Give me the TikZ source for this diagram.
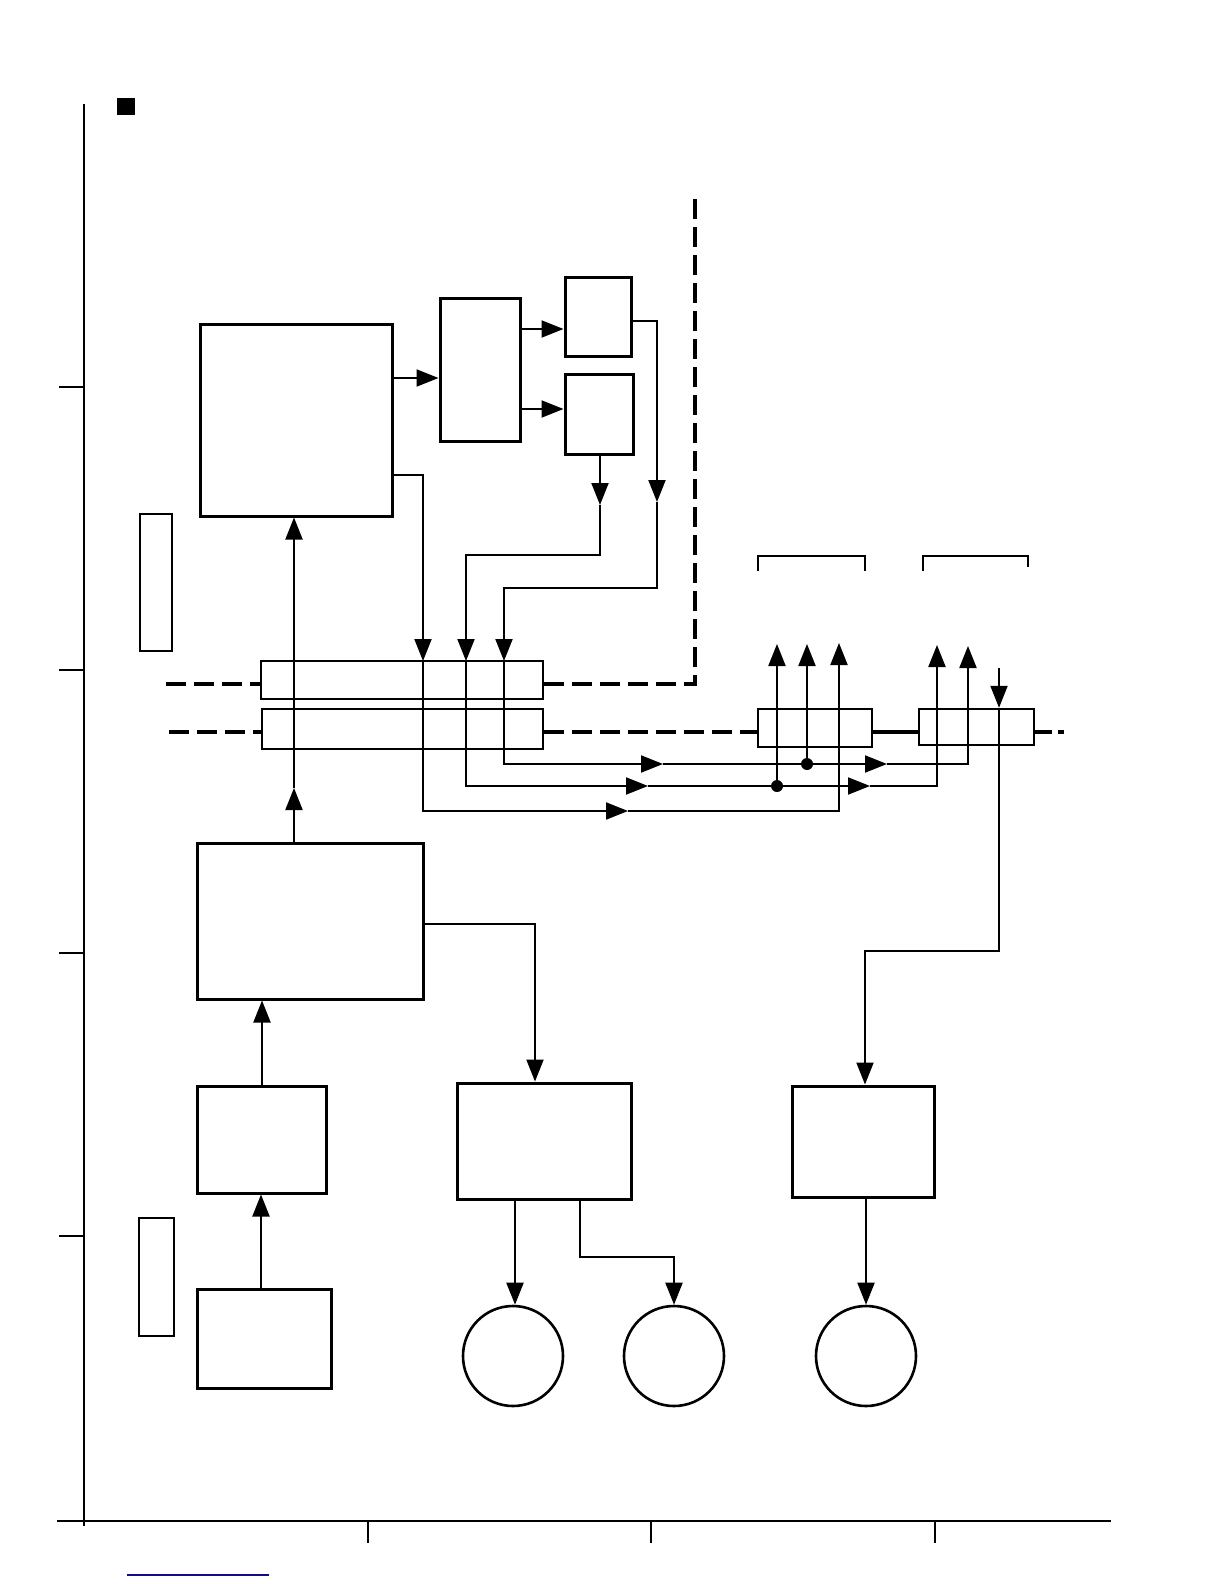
\documentclass[tikz,border=0pt]{standalone}
\usetikzlibrary{arrows.meta,fit}
\definecolor{navyline}{rgb}{0.05,0.05,0.55}
\tikzset{
  box/.style={draw, line width=1.5pt, inner sep=0pt, fill=white},
  thinbox/.style={draw, line width=0.8pt, inner sep=0pt},
  bar/.style={draw, line width=1.2pt, inner sep=0pt},
  circ/.style={draw, circle, line width=1.3pt, minimum size=50pt, inner sep=0pt},
  conn/.style={line width=1pt},
  arr/.style={line width=1pt, -{Triangle[length=11pt,width=8.5pt]}},
  bus/.style={line width=2pt, dash pattern=on 10pt off 4pt},
  solidbus/.style={line width=2pt},
  axis/.style={line width=1pt},
  bracket/.style={line width=0.9pt},
  dot/.style={fill=black}
}
\begin{document}
\begin{tikzpicture}[x=0.5pt,y=-0.5pt]
\useasboundingbox[fill=white] (0,0) rectangle (1224,1584);

% axes
\draw[axis] (84,104) -- (84,1526);
\draw[axis] (57,1521) -- (1111,1521);
\foreach \yy in {387,670,953,1236} \draw[axis] (59,\yy) -- (84,\yy);
\foreach \xx in {368,651,935} \draw[axis] (\xx,1521) -- (\xx,1543);
\fill (117,98) rectangle (135,115);
\draw[navyline, line width=0.8pt] (127,1575) -- (269,1575);

% thin side rectangles
\node[thinbox, fit={(140,514) (172,651)}] (T1) {};
\node[thinbox, fit={(139,1218) (174,1336)}] (T2) {};

% boxes
\node[box, fit={(200,324) (392,516)}] (K) {};
\node[box, fit={(440,298) (520,441)}] (B2) {};
\node[box, fit={(565,277) (631,356)}] (B3) {};
\node[box, fit={(565,374) (633,454)}] (B4) {};
\node[box, fit={(197,843) (423,999)}] (E) {};
\node[box, fit={(197,1086) (326,1193)}] (H) {};
\node[box, fit={(197,1289) (331,1388)}] (I) {};
\node[box, fit={(457,1083) (631,1199)}] (G) {};
\node[box, fit={(792,1086) (934,1197)}] (F) {};

% bars
\node[bar, fit={(261,661) (543,699)}] (BA) {};
\node[bar, fit={(262,709) (543,749)}] (BB) {};
\node[bar, fit={(758,709) (872,747)}] (BC) {};
\node[bar, fit={(919,709) (1034,745)}] (BD) {};

% circles
\node[circ] (C1) at (513,1356) {};
\node[circ] (C2) at (674,1356) {};
\node[circ] (C3) at (866,1356) {};

% buses
\draw[bus] (166,684) -- (BA.west |- 0,684);
\draw[bus] (169,732) -- (BB.west |- 0,732);
\draw[bus] (BA.east |- 0,684) -- (695,684) -- (695,199);
\draw[bus] (BB.east |- 0,732) -- (BC.west |- 0,732);
\draw[solidbus] (BC.east |- 0,732) -- (BD.west |- 0,732);
\draw[solidbus] (BD.east |- 0,732) -- (1052,732);
\draw[solidbus] (1058,732) -- (1064,732);

% brackets
\draw[bracket] (758,571) -- (758,556) -- (865,556) -- (865,571);
\draw[bracket] (923,571) -- (923,556) -- (1028,556) -- (1028,567);

% top connectors
\draw[arr] (K.east |- 0,378) -- (B2.west |- 0,378);
\draw[arr] (B2.east |- 0,329) -- (B3.west |- 0,329);
\draw[arr] (B2.east |- 0,409) -- (B4.west |- 0,409);

% B3 output
\coordinate (p3a) at (657,502);
\coordinate (p3b) at (504,661);
\coordinate (p3c) at (663,764);
\coordinate (p3d) at (887,764);
\coordinate (p3e) at (968,646);
\draw[arr] (B3.east |- 0,321) -- (657,321) -- (p3a);
\draw[arr] (p3a) -- (657,588) -- (504,588) -- (p3b);
\draw[arr] (p3b) -- (504,764) -- (p3c);
\draw[arr] (p3c) -- (p3d);
\draw[arr] (p3d) -- (968,764) -- (p3e);

% B4 output
\coordinate (p4a) at (600,505);
\coordinate (p4b) at (466,661);
\coordinate (p4c) at (648,786);
\coordinate (p4d) at (870,786);
\coordinate (p4e) at (937,645);
\draw[arr] (B4.south -| 600,0) -- (p4a);
\draw[arr] (p4a) -- (600,555) -- (466,555) -- (p4b);
\draw[arr] (p4b) -- (466,786) -- (p4c);
\draw[arr] (p4c) -- (p4d);
\draw[arr] (p4d) -- (937,786) -- (p4e);

% K lower output
\coordinate (pka) at (423,661);
\coordinate (pkb) at (628,811);
\coordinate (pkc) at (839,643);
\draw[arr] (K.east |- 0,475) -- (423,475) -- (pka);
\draw[arr] (pka) -- (423,811) -- (pkb);
\draw[arr] (pkb) -- (839,811) -- (pkc);

% dots and taps
\coordinate (d1) at (777,786);
\coordinate (d2) at (807,764);
\fill[dot] (d1) circle (6);
\fill[dot] (d2) circle (6);
\draw[arr] (d1) -- (777,644);
\draw[arr] (d2) -- (807,644);

% into D and down to F
\coordinate (pda) at (999,668);
\draw[arr] (pda) -- (BD.north -| 999,0);
\draw[arr] (BD.north -| 999,0) -- (999,951) -- (865,951) -- (F.north -| 865,0);

% E and lower
\coordinate (pea) at (294,788);
\draw[arr] (E.north -| 294,0) -- (pea);
\draw[arr] (pea) -- (K.south -| 294,0);
\draw[arr] (E.east |- 0,924) -- (535,924) -- (G.north -| 535,0);
\draw[arr] (H.north -| 262,0) -- (E.south -| 262,0);
\draw[arr] (I.north -| 261,0) -- (H.south -| 261,0);
\draw[arr] (G.south -| 515,0) -- (C1.north -| 515,0);
\draw[arr] (G.south -| 580,0) -- (580,1257) -- (674,1257) -- (C2.north);
\draw[arr] (F.south -| 866,0) -- (C3.north);
\end{tikzpicture}
\end{document}
